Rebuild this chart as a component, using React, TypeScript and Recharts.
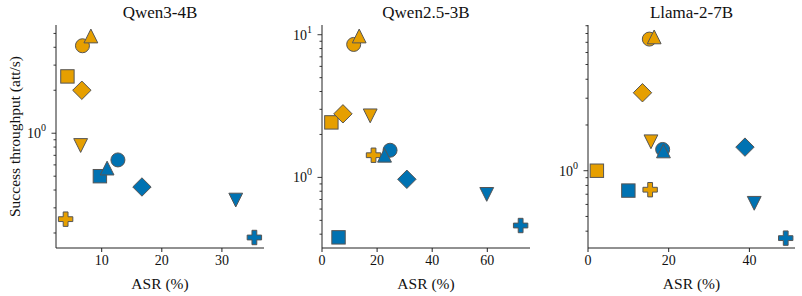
import { ScatterChart, Scatter, XAxis, YAxis } from 'recharts';

// marker kinds, in drawing order
const markers = ['circle', 'square', 'diamond', 'up', 'down', 'plus'];

const qwen3OrangeX = [6.8, 4.3, 6.7, 8.2, 6.5, 4.0];
const qwen3OrangeY = [4.1, 2.5, 2.0, 4.8, 0.82, 0.25];
const qwen3BlueX = [12.7, 9.7, 16.7, 10.9, 32.3, 35.4];
const qwen3BlueY = [0.65, 0.5, 0.42, 0.57, 0.34, 0.186];

const qwen25OrangeX = [11.5, 3.4, 7.6, 13.5, 17.5, 18.7];
const qwen25OrangeY = [8.55, 2.43, 2.79, 9.8, 2.7, 1.43];
const qwen25BlueX = [24.7, 6.0, 30.8, 22.7, 59.8, 72.1];
const qwen25BlueY = [1.55, 0.38, 0.97, 1.43, 0.76, 0.46];

const llamaOrangeX = [15.2, 2.2, 13.5, 16.4, 15.6, 15.4];
const llamaOrangeY = [7.35, 1.0, 3.26, 7.6, 1.55, 0.75];
const llamaBlueX = [18.5, 10.0, 38.9, 18.7, 41.2, 49.0];
const llamaBlueY = [1.38, 0.74, 1.43, 1.35, 0.61, 0.36];

const qwen3XTicks = [10, 20, 30];
const qwen25XTicks = [0, 20, 40, 60];
const llamaXTicks = [0, 20, 40];

const qwen3YTicks = [0.2, 0.3, 0.4, 0.5, 0.6, 0.7, 0.8, 0.9, 1, 2, 3, 4, 5];
const qwen25YTicks = [0.4, 0.5, 0.6, 0.7, 0.8, 0.9, 1, 2, 3, 4, 5, 6, 7, 8, 9, 10];
const llamaYTicks = [0.4, 0.5, 0.6, 0.7, 0.8, 0.9, 1, 2, 3, 4, 5, 6, 7, 8, 9];

const ORANGE = '#E69F00';
const BLUE = '#0072B2';
const EDGE = '#555555';
const FONT = '"Liberation Serif", "DejaVu Serif", serif';

const build = (xs: number[], ys: number[]) =>
  xs.map((x, i) => ({ x, y: ys[i], m: markers[i] }));

const Marker = (props: any) => {
  const { cx, cy, payload, fill } = props;
  if (cx == null || cy == null) return null;
  const common = { fill, stroke: EDGE, strokeWidth: 1 };
  switch (payload.m) {
    case 'circle':
      return <circle cx={cx} cy={cy} r={7} {...common} />;
    case 'square':
      return <rect x={cx - 6.7} y={cy - 6.7} width={13.4} height={13.4} {...common} />;
    case 'diamond': {
      const d = 9.2;
      return <polygon points={`${cx},${cy - d} ${cx + d},${cy} ${cx},${cy + d} ${cx - d},${cy}`} {...common} />;
    }
    case 'up': {
      const s = 6.9;
      return <polygon points={`${cx},${cy - s} ${cx + s},${cy + s} ${cx - s},${cy + s}`} {...common} />;
    }
    case 'down': {
      const s = 6.9;
      return <polygon points={`${cx - s},${cy - s} ${cx + s},${cy - s} ${cx},${cy + s}`} {...common} />;
    }
    case 'plus': {
      const a = 2.4;
      const b = 7.2;
      const pts = [
        [-a, -b], [a, -b], [a, -a], [b, -a], [b, a], [a, a],
        [a, b], [-a, b], [-a, a], [-b, a], [-b, -a], [-a, -a],
      ].map(([px, py]) => `${cx + px},${cy + py}`).join(' ');
      return <polygon points={pts} {...common} />;
    }
    default:
      return null;
  }
};

const LogTick = (props: any) => {
  const { x, y, payload } = props;
  const exp = Math.log10(payload.value);
  const major = Math.abs(exp - Math.round(exp)) < 1e-6;
  return (
    <g>
      <line x1={x - (major ? 4.5 : 2.5)} x2={x} y1={y} y2={y} stroke="#222" strokeWidth={0.9} />
      {major && (
        <text x={x - 10} y={y + 5} textAnchor="end" fill="#111" fontSize={14} fontFamily={FONT}>
          <tspan>10</tspan>
          <tspan dy={-7} fontSize={10}>{Math.round(exp)}</tspan>
        </text>
      )}
    </g>
  );
};

const YLabel = (props: any) => {
  const { viewBox } = props;
  const cx = 14;
  const cy = viewBox.y + viewBox.height / 2;
  return (
    <text x={cx} y={cy} transform={`rotate(-90 ${cx} ${cy})`} textAnchor="middle" dominantBaseline="central"
      fontSize={15.5} fill="#111" fontFamily={FONT}>
      Success throughput (att/s)
    </text>
  );
};

interface PanelProps {
  title: string;
  left: number;
  width: number;
  axisWidth: number;
  right: number;
  xDomain: [number, number];
  yDomain: [number, number];
  xTicks: number[];
  yTicks: number[];
  orange: { x: number; y: number; m: string }[];
  blue: { x: number; y: number; m: string }[];
  showYLabel?: boolean;
}

function Panel({ title, left, width, axisWidth, right, xDomain, yDomain, xTicks, yTicks, orange, blue, showYLabel }: PanelProps) {
  const plotW = width - axisWidth - right;
  return (
    <div style={{ position: 'absolute', left, top: 0, width, height: 296 }}>
      <div style={{ position: 'absolute', left: axisWidth, width: plotW, top: 3, textAlign: 'center', fontSize: 17, lineHeight: '20px', fontFamily: FONT, color: '#111' }}>
        {title}
      </div>
      <ScatterChart width={width} height={296} margin={{ top: 25, right, bottom: 0, left: 0 }}>
        <XAxis
          type="number"
          dataKey="x"
          domain={xDomain}
          ticks={xTicks}
          allowDataOverflow
          height={48}
          tickSize={4}
          tickMargin={3}
          stroke="#222"
          tick={{ fill: '#111', fontSize: 14, fontFamily: FONT }}
          label={{ value: 'ASR (%)', position: 'insideBottom', offset: 7, fill: '#111', fontSize: 15.5, fontFamily: FONT }}
        />
        <YAxis
          type="number"
          dataKey="y"
          scale="log"
          domain={yDomain}
          ticks={yTicks}
          allowDataOverflow
          width={axisWidth}
          tickSize={0}
          tickMargin={0}
          tickLine={false}
          stroke="#222"
          tick={<LogTick />}
          interval={0}
          label={showYLabel ? <YLabel /> : undefined}
        />
        <Scatter data={orange} fill={ORANGE} shape={<Marker />} isAnimationActive={false} />
        <Scatter data={blue} fill={BLUE} shape={<Marker />} isAnimationActive={false} />
      </ScatterChart>
    </div>
  );
}

export default function App() {
  return (
    <div style={{ position: 'absolute', left: 0, top: 0, width: 802, height: 296, background: '#fff', fontFamily: FONT }}>
      <Panel
        title="Qwen3-4B"
        left={0}
        width={270}
        axisWidth={56}
        right={6}
        xDomain={[2.4, 37]}
        yDomain={[0.157, 5.73]}
        xTicks={qwen3XTicks}
        yTicks={qwen3YTicks}
        orange={build(qwen3OrangeX, qwen3OrangeY)}
        blue={build(qwen3BlueX, qwen3BlueY)}
        showYLabel
      />
      <Panel
        title="Qwen2.5-3B"
        left={270}
        width={270}
        axisWidth={52}
        right={10}
        xDomain={[0, 75.5]}
        yDomain={[0.32, 11.7]}
        xTicks={qwen25XTicks}
        yTicks={qwen25YTicks}
        orange={build(qwen25OrangeX, qwen25OrangeY)}
        blue={build(qwen25BlueX, qwen25BlueY)}
      />
      <Panel
        title="Llama-2-7B"
        left={535}
        width={267}
        axisWidth={53}
        right={7}
        xDomain={[0, 51.3]}
        yDomain={[0.31, 9.1]}
        xTicks={llamaXTicks}
        yTicks={llamaYTicks}
        orange={build(llamaOrangeX, llamaOrangeY)}
        blue={build(llamaBlueX, llamaBlueY)}
      />
    </div>
  );
}
